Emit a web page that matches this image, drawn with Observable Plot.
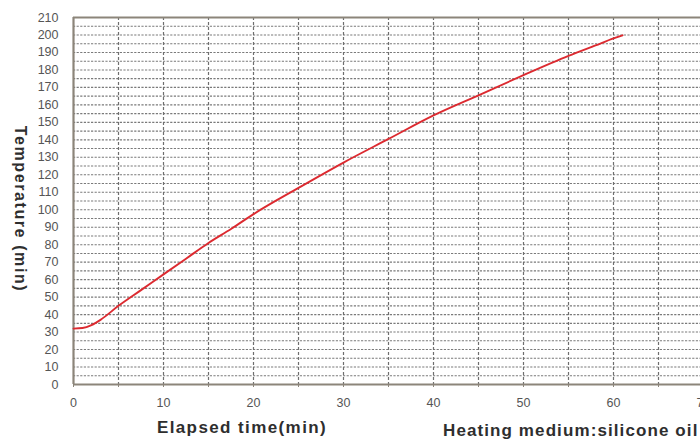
<!DOCTYPE html>
<html>
<head>
<meta charset="utf-8">
<script src="https://cdn.jsdelivr.net/npm/d3@7"></script>
<script src="https://cdn.jsdelivr.net/npm/@observablehq/plot@0.6"></script>
<style>
  html, body { margin: 0; padding: 0; background: #fff; overflow: hidden; width: 700px; height: 442px; }
  #wrap { position: relative; width: 700px; height: 442px; overflow: hidden; font-family: "Liberation Sans", Arial, sans-serif; }
  #chart svg { max-width: none !important; width: 730px !important; height: 442px !important; display: block; }
  .lbl { position: absolute; white-space: nowrap; font-weight: bold; color: #2e2e2e; }
</style>
</head>
<body>
<div id="wrap">
  <div id="chart"></div>
  <div class="lbl" id="ylab" style="font-size:16px; letter-spacing:1.6px; left:20px; top:209px; transform: translate(-50%,-50%) rotate(90deg);">Temperature (min)</div>
  <div class="lbl" id="xlab" style="font-size:17px; letter-spacing:1.4px; left:242px; top:428px; transform: translate(-50%,-50%);">Elapsed time(min)</div>
  <div class="lbl" id="cap" style="font-size:17px; letter-spacing:1.1px; left:443px; top:431px; transform: translate(0,-50%);">Heating medium:silicone oil</div>
</div>
<script>
// Elapsed time (min)
const timeMin = [0, 1, 2, 3, 5, 7.5, 10, 12.5, 15, 17.5, 20, 25, 30, 35, 40, 45, 50, 55, 58, 60, 61];
// Temperature (°C)
const tempC   = [32, 32.3, 34, 37, 45, 54, 63, 72, 81, 89, 97.5, 112.5, 127, 140.5, 154, 165.5, 177, 188, 194, 198, 199.8];
const xTicks = [0, 10, 20, 30, 40, 50, 60, 70];
const yTicks = [0, 10, 20, 30, 40, 50, 60, 70, 80, 90, 100, 110, 120, 130, 140, 150, 160, 170, 180, 190, 200, 210];
const xGrid = [5, 10, 15, 20, 25, 30, 35, 40, 45, 50, 55, 60, 65, 70];
const yGrid = d3.range(5, 210, 5);

const data = timeMin.map((t, i) => ({t, T: tempC[i]}));

const frameColor = "#8c857a";
const chart = Plot.plot({
  width: 730,
  height: 442,
  marginLeft: 73,
  marginRight: 27,
  marginTop: 17,
  marginBottom: 58,
  style: {fontFamily: "'Liberation Sans', Arial, sans-serif", fontSize: "12px", background: "#fff", maxWidth: "none"},
  x: {domain: [0, 70]},
  y: {domain: [0, 210]},
  marks: [
    Plot.ruleY(yGrid, {stroke: "#7a7a7a", strokeWidth: 1.1, strokeDasharray: "2.2,1.4"}),
    Plot.ruleX(xGrid, {stroke: "#6e6e6e", strokeWidth: 1.2, strokeDasharray: "3,2"}),
    Plot.ruleX([0], {stroke: frameColor, strokeWidth: 2.2}),
    Plot.ruleY([0, 210], {stroke: frameColor, strokeWidth: 2.2}),
    Plot.axisX({ticks: d3.range(0, 75, 5), tickSize: 3, tickFormat: () => "", stroke: frameColor, label: null}),
    Plot.axisX(xTicks, {tickSize: 0, tickPadding: 14, fill: "#555", fontSize: 12.5, label: null}),
    Plot.axisY(yTicks, {tickSize: 0, tickPadding: 15, fill: "#555", fontSize: 12.5, label: null}),
    Plot.line(data, {x: "t", y: "T", stroke: "#dc2a30", strokeWidth: 1.9, curve: "monotone-x"})
  ]
});
document.getElementById("chart").appendChild(chart);
</script>
</body>
</html>
